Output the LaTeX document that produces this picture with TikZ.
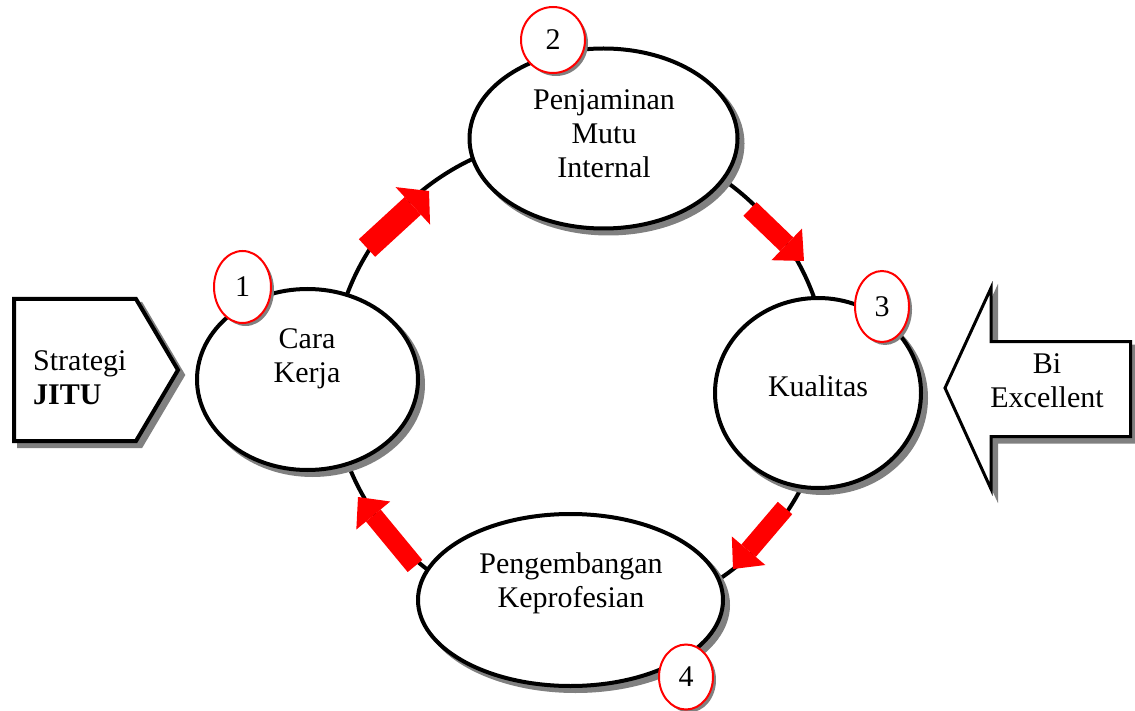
\documentclass[tikz,border=0pt]{standalone}
\usepackage{fontspec}
\setmainfont{Liberation Serif}
\usetikzlibrary{shapes,shadows,arrows.meta}

\begin{document}
\begin{tikzpicture}[x=1pt,y=-1pt,font=\fontsize{30}{34}\selectfont]
  \tikzstyle{shadowed}=[drop shadow={shadow xshift=5pt,shadow yshift=-5pt,
                        fill=black!50,draw=black!50,line width=4pt,opacity=1}]
  \tikzstyle{place}=[ellipse,draw,line width=4pt,fill=white,inner sep=0pt,shadowed]
  \tikzstyle{num}=[ellipse,draw=red,line width=2pt,fill=white,inner sep=0pt,
                   drop shadow={shadow xshift=3pt,shadow yshift=-3pt,fill=black!50,opacity=1}]
  \tikzstyle{txt}=[align=center,inner sep=0pt]
  \tikzstyle{flow}=[draw=red,line width=19pt,-{Triangle[length=24pt,width=44pt,line width=0pt]}]
  \tikzstyle{big flow}=[draw=red,line width=24pt,-{Triangle[length=22pt,width=51pt,line width=0pt]}]

  \useasboundingbox (0,0) rectangle (1135,711);

  \coordinate (o) at (580,378);
  \draw[line width=4pt] (o) ellipse [x radius=248pt,y radius=243pt];

  \node[place,minimum width=268pt,minimum height=180pt] (penj) at (603.5,138.5) {};
  \node[place,minimum width=221pt,minimum height=181pt] (cara) at (307.5,379.5) {};
  \node[place,minimum width=206pt,minimum height=190pt] (kual) at (818,393) {};
  \node[place,minimum width=305pt,minimum height=172pt] (peng) at (570.5,600) {};

  \node[txt] (penjt) at (604,134) {Penjaminan\\Mutu\\Internal};
  \node[txt] (carat) at (307,359) {Cara\\Kerja};
  \node[txt] (kualt) at (818,386) {Kualitas};
  \node[txt] (pengt) at (571,583) {Pengembangan\\Keprofesian};

  \coordinate (a1s) at (367,248); \coordinate (a1e) at (429,191);
  \coordinate (a2s) at (750,209); \coordinate (a2e) at (804,261);
  \coordinate (a3s) at (785,508); \coordinate (a3e) at (733,569);
  \coordinate (a4s) at (415,566); \coordinate (a4e) at (358,497);
  \draw[big flow] (a1s) -- (a1e);
  \draw[flow] (a2s) -- (a2e);
  \draw[flow] (a3s) -- (a3e);
  \draw[flow] (a4s) -- (a4e);

  \node[num,minimum width=57pt,minimum height=72pt] (n1) at (242.5,287) {1};
  \node[num,minimum width=64pt,minimum height=66pt] (n2) at (553,40) {2};
  \node[num,minimum width=54pt,minimum height=71pt] (n3) at (882,306.5) {3};
  \node[num,minimum width=54pt,minimum height=65pt] (n4) at (686,677) {4};

  \draw[line width=4pt,fill=white,shadowed]
    (14,299) -- (136,299) -- (178,370) -- (136,441) -- (14,441) -- cycle;
  \node[txt,anchor=west,align=left] (jitu) at (33,378) {Strategi\\\textbf{JITU}};

  \draw[line width=3pt,fill=white,shadowed]
    (945,388) -- (991,288) -- (991,341.5) -- (1130.5,341.5) -- (1130.5,436.5)
    -- (991,436.5) -- (991,489) -- cycle;
  \node[txt] (bi) at (1047,381) {Bi\\Excellent};
\end{tikzpicture}
\end{document}
